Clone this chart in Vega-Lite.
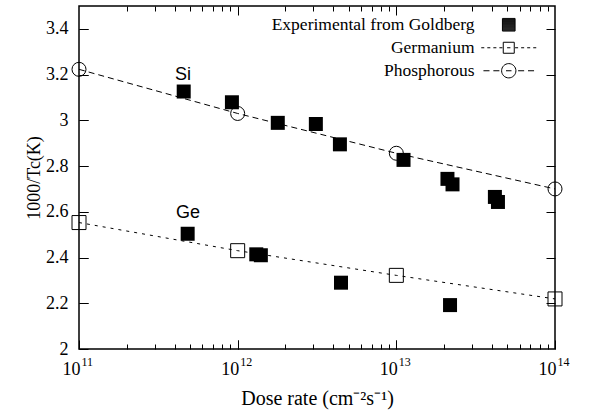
{
  "$schema": "https://vega.github.io/schema/vega-lite/v6.json",
  "width": 476,
  "height": 343,
  "autosize": {"type": "none"},
  "padding": {"left": 79, "top": 6, "right": 36, "bottom": 63},
  "background": "white",
  "data": {"values": [
    {"series": "Phosphorous", "dose": 1e11, "inv": 3.223},
    {"series": "Phosphorous", "dose": 1e12, "inv": 3.03},
    {"series": "Phosphorous", "dose": 1e13, "inv": 2.856},
    {"series": "Phosphorous", "dose": 1e14, "inv": 2.70},
    {"series": "Germanium", "dose": 1e11, "inv": 2.553},
    {"series": "Germanium", "dose": 1e12, "inv": 2.43},
    {"series": "Germanium", "dose": 1e13, "inv": 2.322},
    {"series": "Germanium", "dose": 1e14, "inv": 2.219},
    {"series": "Experimental from Goldberg", "dose": 4.57e11, "inv": 3.126},
    {"series": "Experimental from Goldberg", "dose": 9.2e11, "inv": 3.079},
    {"series": "Experimental from Goldberg", "dose": 1.79e12, "inv": 2.989},
    {"series": "Experimental from Goldberg", "dose": 3.11e12, "inv": 2.984},
    {"series": "Experimental from Goldberg", "dose": 4.41e12, "inv": 2.895},
    {"series": "Experimental from Goldberg", "dose": 1.11e13, "inv": 2.827},
    {"series": "Experimental from Goldberg", "dose": 2.1e13, "inv": 2.744},
    {"series": "Experimental from Goldberg", "dose": 2.26e13, "inv": 2.72},
    {"series": "Experimental from Goldberg", "dose": 4.18e13, "inv": 2.665},
    {"series": "Experimental from Goldberg", "dose": 4.37e13, "inv": 2.643},
    {"series": "Experimental from Goldberg", "dose": 4.84e11, "inv": 2.504},
    {"series": "Experimental from Goldberg", "dose": 1.31e12, "inv": 2.414},
    {"series": "Experimental from Goldberg", "dose": 1.40e12, "inv": 2.41},
    {"series": "Experimental from Goldberg", "dose": 4.48e12, "inv": 2.29},
    {"series": "Experimental from Goldberg", "dose": 2.18e13, "inv": 2.192}
  ]},
  "layer": [
    {
      "transform": [{"filter": "datum.series !== 'Experimental from Goldberg'"}],
      "mark": {"type": "line", "color": "black", "strokeWidth": 1},
      "encoding": {
        "x": {
          "field": "dose", "type": "quantitative",
          "scale": {"type": "log", "domain": [1e11, 1e14], "nice": false},
          "axis": {
            "orient": "bottom", "ticks": false, "domain": false, "grid": false, "title": null,
            "values": [1e11, 1e12, 1e13, 1e14],
            "labelExpr": "datum.value == 1e11 ? '11' : datum.value == 1e12 ? '12' : datum.value == 1e13 ? '13' : '14'",
            "labelFont": "Liberation Serif", "labelFontSize": 12, "labelColor": "black",
            "labelAlign": "left", "labelOffset": 2, "labelBaseline": "top",
            "labelPadding": 7
          }
        },
        "y": {
          "field": "inv", "type": "quantitative",
          "scale": {"domain": [2, 3.5], "nice": false, "zero": false},
          "axis": {
            "orient": "right", "ticks": false, "labels": false, "domain": false, "title": null,
            "grid": true, "gridColor": "black", "gridWidth": 1, "gridOpacity": 1, "gridDash": [9, 458, 9, 1000],
            "values": [2.2, 2.4, 2.6, 2.8, 3, 3.2, 3.4]
          }
        },
        "strokeDash": {
          "field": "series", "type": "nominal",
          "scale": {"domain": ["Germanium", "Phosphorous"], "range": [[3, 5], [6, 4]]},
          "legend": null
        }
      }
    },
    {
      "transform": [{"filter": "datum.series === 'Experimental from Goldberg'"}],
      "mark": {"type": "point", "shape": "square", "filled": true, "color": "black", "size": 196, "opacity": 1},
      "encoding": {
        "x": {
          "field": "dose", "type": "quantitative",
          "scale": {"type": "log", "domain": [1e11, 1e14], "nice": false},
          "axis": {
            "orient": "bottom", "offset": -9, "tickSize": 9, "tickColor": "black", "tickWidth": 1, "domain": false, "grid": false,
            "values": [1e11, 1e12, 1e13, 1e14],
            "labelExpr": "'10'",
            "labelFont": "Liberation Serif", "labelFontSize": 18, "labelColor": "black",
            "labelAlign": "right", "labelOffset": 1, "labelBaseline": "top",
            "labelPadding": 11, "titlePadding": 10,
            "title": "Dose rate (cm⁻²s⁻¹)",
            "titleFont": "Liberation Serif", "titleFontSize": 20, "titleFontWeight": "normal", "titleColor": "black"
          }
        },
        "y": {
          "field": "inv", "type": "quantitative",
          "scale": {"domain": [2, 3.5], "nice": false, "zero": false},
          "axis": {
            "orient": "left", "offset": -9, "tickSize": 9, "tickColor": "black", "tickWidth": 1, "domain": false, "grid": false,
            "values": [2, 2.2, 2.4, 2.6, 2.8, 3, 3.2, 3.4],
            "format": "~g",
            "labelFont": "Liberation Serif", "labelFontSize": 18, "labelColor": "black",
            "title": "1000/Tc(K)",
            "titleFont": "Liberation Serif", "titleFontSize": 18, "titleFontWeight": "normal", "titleColor": "black",
            "labelPadding": 11, "titlePadding": 2
          }
        }
      }
    },
    {
      "transform": [{"filter": "datum.series === 'Germanium'"}],
      "mark": {"type": "point", "shape": "square", "filled": false, "stroke": "black", "strokeWidth": 1, "size": 196, "opacity": 1},
      "encoding": {
        "x": {
          "field": "dose", "type": "quantitative",
          "scale": {"type": "log", "domain": [1e11, 1e14], "nice": false},
          "axis": {
            "orient": "top", "ticks": false, "labels": false, "domain": false, "title": null,
            "grid": true, "gridColor": "black", "gridWidth": 1, "gridOpacity": 1, "gridDash": [9, 325, 9, 1000],
            "values": [1e12, 1e13]
          }
        },
        "y": {
          "field": "inv", "type": "quantitative",
          "scale": {"domain": [2, 3.5], "nice": false, "zero": false},
          "axis": {"orient": "left", "ticks": false, "labels": false, "domain": false, "grid": false, "title": null}
        }
      }
    },
    {
      "transform": [{"filter": "datum.series === 'Phosphorous'"}],
      "mark": {"type": "point", "shape": "circle", "filled": false, "stroke": "black", "strokeWidth": 1, "size": 196, "opacity": 1},
      "encoding": {
        "x": {
          "field": "dose", "type": "quantitative",
          "scale": {"type": "log", "domain": [1e11, 1e14], "nice": false},
          "axis": {
            "orient": "top", "ticks": false, "labels": false, "domain": false, "title": null,
            "grid": true, "gridColor": "black", "gridWidth": 1, "gridOpacity": 1, "gridDash": [5, 333, 5, 1000],
            "values": [2e11, 3e11, 4e11, 5e11, 6e11, 7e11, 8e11, 9e11, 2e12, 3e12, 4e12, 5e12, 6e12, 7e12, 8e12, 9e12, 2e13, 3e13, 4e13, 5e13, 6e13, 7e13, 8e13, 9e13]
          }
        },
        "y": {
          "field": "inv", "type": "quantitative",
          "scale": {"domain": [2, 3.5], "nice": false, "zero": false},
          "axis": {"orient": "right", "ticks": false, "labels": false, "domain": false, "grid": false, "title": null}
        }
      }
    },
    {
      "mark": {"type": "point", "filled": false, "stroke": "black", "strokeWidth": 1, "size": 121, "opacity": 0},
      "encoding": {
        "x": {
          "field": "dose", "type": "quantitative",
          "scale": {"type": "log", "domain": [1e11, 1e14], "nice": false},
          "axis": {"orient": "top", "ticks": false, "labels": false, "domain": false, "grid": false, "title": null}
        },
        "y": {
          "field": "inv", "type": "quantitative",
          "scale": {"domain": [2, 3.5], "nice": false, "zero": false},
          "axis": {"orient": "left", "ticks": false, "labels": false, "domain": false, "grid": false, "title": null}
        },
        "shape": {
          "field": "series", "type": "nominal",
          "scale": {
            "domain": ["Experimental from Goldberg", "Germanium", "Phosphorous"],
            "range": [
              "M-1.15,-1.15H1.15V1.15H-1.15ZM-1.15,-0.97H1.15M-1.15,-0.79H1.15M-1.15,-0.61H1.15M-1.15,-0.43H1.15M-1.15,-0.25H1.15M-1.15,-0.07H1.15M-1.15,0.11H1.15M-1.15,0.29H1.15M-1.15,0.47H1.15M-1.15,0.65H1.15M-1.15,0.83H1.15M-1.15,1.01H1.15",
              "M-5,0H-4.45M-3.9,0H-3.35M-2.8,0H-2.25M-1.7,0H-1.15M-1,-1H1V1H-1ZM-0.3,0H0.3M1.15,0H1.7M2.25,0H2.8M3.35,0H3.9M4.45,0H5",
              "M-4.6,0H-3.5M-2.8,0H-1.7M1.3,0A1.3,1.3,0,1,1,-1.3,0A1.3,1.3,0,1,1,1.3,0ZM-0.5,0H0.5M1.7,0H2.8M3.5,0H4.6"
            ]
          },
          "legend": {
            "orient": "none",
            "legendX": 421,
            "legendY": 10,
            "title": null,
            "padding": 0,
            "symbolSize": 121,
            "symbolOpacity": 1,
            "symbolStrokeColor": "black",
            "symbolStrokeWidth": 1,
            "labelFont": "Liberation Serif",
            "labelFontSize": 17.5,
            "labelColor": "black",
            "labelAlign": "right",
            "labelOffset": -43,
            "labelLimit": 0,
            "rowPadding": 4
          }
        }
      }
    },
    {
      "data": {"values": [
        {"label": "Si", "dose": 4.52e11, "inv": 3.199},
        {"label": "Ge", "dose": 4.86e11, "inv": 2.595}
      ]},
      "mark": {"type": "text", "font": "Liberation Sans", "fontSize": 18, "color": "black", "align": "center", "baseline": "middle"},
      "encoding": {
        "x": {"field": "dose", "type": "quantitative", "scale": {"type": "log", "domain": [1e11, 1e14], "nice": false},
          "axis": {"orient": "top", "ticks": false, "labels": false, "domain": false, "grid": false, "title": null}},
        "y": {"field": "inv", "type": "quantitative", "scale": {"domain": [2, 3.5], "nice": false, "zero": false},
          "axis": {"orient": "right", "ticks": false, "labels": false, "domain": false, "grid": false, "title": null}},
        "text": {"field": "label"}
      }
    }
  ],
  "resolve": {"axis": {"x": "independent", "y": "independent"}},
  "config": {
    "view": {"stroke": "black", "strokeWidth": 1.5},
    "axis": {"tickColor": "black", "labelFont": "Liberation Serif"},
    "style": {"guide-label": {"font": "Liberation Serif"}}
  }
}
